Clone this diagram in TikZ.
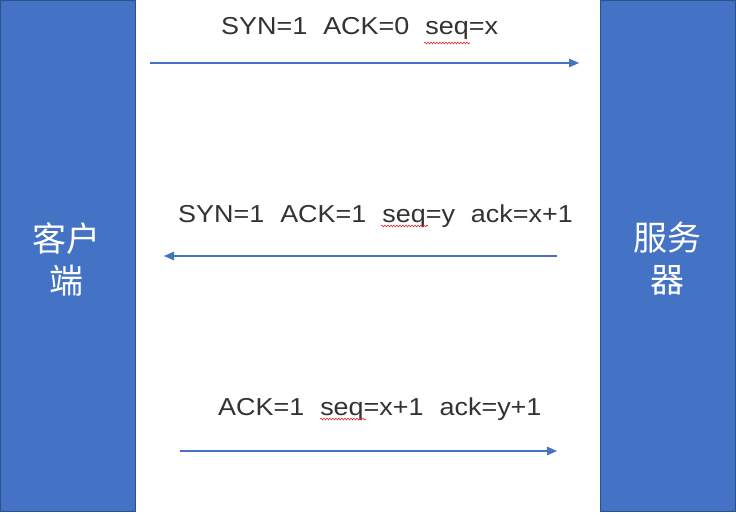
\documentclass[tikz,border=0pt]{standalone}
\usepackage{fontspec}
\usepackage{graphicx}
\setmainfont{Liberation Sans}
\newfontfamily\cjk{Noto Sans CJK SC}
\usetikzlibrary{arrows.meta,decorations.pathmorphing}
\definecolor{officeblue}{HTML}{4472C4}
\definecolor{officeedge}{HTML}{2F528F}
\definecolor{spellred}{HTML}{D83030}
\newcommand\gap{\hspace{14.5pt}}
\newcommand\widetxt[1]{\scalebox{1.1}[1]{#1}}
\begin{document}
\begin{tikzpicture}[x=1pt,y=-1pt,
  hostbox/.style={fill=officeblue,draw=officeedge,line width=1pt},
  hostlabel/.style={text=white,font=\cjk\fontsize{34}{42}\selectfont,align=center,inner sep=0pt},
  msg/.style={font=\fontsize{24.5}{28}\selectfont,text=black!80,inner sep=0pt,anchor=base west},
  flow/.style={draw=officeblue,line width=1.1pt,-{Triangle[length=10pt,width=8.5pt]}},
  spell/.style={draw=spellred,line width=0.6pt,decorate,decoration={snake,amplitude=0.9pt,segment length=3pt}}]
  % canvas
  \path[fill=white] (0,0) rectangle (736,516);
  \useasboundingbox (0,0) rectangle (736,516);
  % the two hosts
  \path[hostbox] (0.5,0.5) rectangle (135,511);
  \path[hostbox] (600,0.5) rectangle (735.5,511);
  \node[hostlabel] (client) at (66.5,259) {客户\\端};
  \node[hostlabel] (server) at (667,259) {服务\\器};
  % anchors for the message arrows
  \coordinate (c1) at (150,63);  \coordinate (s1) at (579,63);
  \coordinate (s2) at (557,256); \coordinate (c2) at (164,256);
  \coordinate (c3) at (180,451); \coordinate (s3) at (557,451);
  \draw[flow] (c1) -- (s1);
  \draw[flow] (s2) -- (c2);
  \draw[flow] (c3) -- (s3);
  % message labels
  \node[msg] (m1) at (221,35) {\widetxt{SYN=1\gap ACK=0\gap seq=x}};
  \node[msg] (m2) at (178,222) {\widetxt{SYN=1\gap ACK=1\gap seq=y\gap ack=x+1}};
  \node[msg] (m3) at (218,415) {\widetxt{ACK=1\gap seq=x+1\gap ack=y+1}};
  % spell-check underlines below "seq"
  \coordinate (u1a) at (424,43); \coordinate (u1b) at (470,43);
  \coordinate (u2a) at (381,226); \coordinate (u2b) at (428,226);
  \coordinate (u3a) at (320,419); \coordinate (u3b) at (366,419);
  \draw[spell] (u1a) -- (u1b);
  \draw[spell] (u2a) -- (u2b);
  \draw[spell] (u3a) -- (u3b);
\end{tikzpicture}
\end{document}
